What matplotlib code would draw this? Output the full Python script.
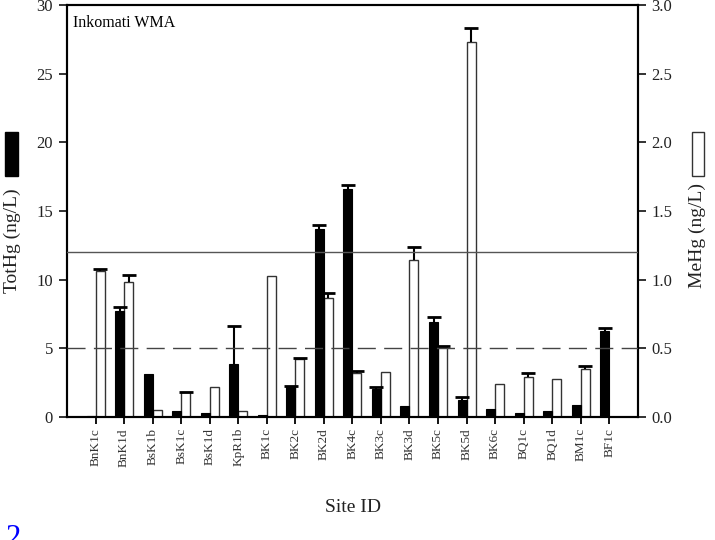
import matplotlib
matplotlib.use('Agg')
from matplotlib import pyplot as plt
from matplotlib.patches import Rectangle
import numpy as np

plt.rcParams['font.family'] = ['Liberation Serif', 'DejaVu Serif']

sitios = ['BnK1c', 'BnK1d', 'BsK1b', 'BsK1c', 'BsK1d', 'KpR1b', 'BK1c', 'BK2c', 'BK2d', 'BK4c',
          'BK3c', 'BK3d', 'BK5c', 'BK5d', 'BK6c', 'BQ1c', 'BQ1d', 'BM1c', 'BF1c']
tothg = [0.1, 7.7, 3.15, 0.4, 0.3, 3.85, 0.15, 2.15, 13.7, 16.6,
         2.05, 0.8, 6.95, 1.25, 0.55, 0.3, 0.4, 0.85, 6.25]
tothg_err = [0, 0.3, 0, 0, 0, 2.75, 0, 0.12, 0.3, 0.3,
             0.13, 0, 0.35, 0.2, 0, 0, 0, 0, 0.25]
mehg = [1.06, 0.98, 0.05, 0.18, 0.22, 0.045, 1.03, 0.42, 0.865, 0.32,
        0.33, 1.14, 0.51, 2.73, 0.24, 0.29, 0.275, 0.35, 0]
mehg_err = [0.02, 0.055, 0, 0.005, 0, 0, 0, 0.01, 0.04, 0.015,
            0, 0.1, 0.01, 0.1, 0, 0.03, 0, 0.02, 0]
limites = [12, 5]  # TotHg ng/L

x = np.arange(len(sitios))
w = 0.315

fig = plt.figure(figsize=(7.15, 5.4), dpi=100)
ax = fig.add_axes([0.0937, 0.2278, 0.7983, 0.7629])
ax2 = ax.twinx()
ax.set_zorder(ax2.get_zorder() + 1)
ax.patch.set_visible(False)

ax.bar(x - w, tothg, width=w, align='edge', color='black', edgecolor='black', linewidth=0.8)
ax2.bar(x, mehg, width=w, align='edge', color='white', edgecolor='#333333', linewidth=1.0)

# barras de error solo hacia arriba (una tapa)
def error_arriba(a, xs, ys, es):
    xs = np.asarray(xs); ys = np.asarray(ys); es = np.asarray(es)
    m = es > 0
    a.vlines(xs[m], ys[m], ys[m] + es[m], color='black', linewidth=1.5, zorder=4)
    a.plot(xs[m], ys[m] + es[m], linestyle='none', marker='_', markersize=9.5,
           markeredgewidth=2, color='black', zorder=4)

error_arriba(ax, x - w / 2, tothg, tothg_err)
error_arriba(ax2, x + w / 2, mehg, mehg_err)

ax.axhline(limites[0], color='#555555', linewidth=1.0, zorder=5)
ax.axhline(limites[1], color='#444444', linewidth=1.0, dashes=(13, 6), zorder=5)

ax.set_xlim(-1, len(sitios))
ax.set_ylim(0, 30)
ax2.set_ylim(0, 3)
ax.set_yticks([0, 5, 10, 15, 20, 25, 30])
ax2.set_yticks([0.0, 0.5, 1.0, 1.5, 2.0, 2.5, 3.0])
ax2.set_yticklabels(['0.0', '0.5', '1.0', '1.5', '2.0', '2.5', '3.0'])
ax.set_xticks(x)
ax.set_xticklabels(sitios, rotation=90, fontsize=9.5, color='#333333')

ax.tick_params(axis='y', direction='out', length=6, width=1.3, labelsize=12, colors='#222222', pad=4)
ax2.tick_params(axis='y', direction='out', length=6, width=1.3, labelsize=12, colors='#222222', pad=4)
ax.tick_params(axis='x', direction='out', length=5, width=1.3, pad=3)
for a in (ax, ax2):
    for s in a.spines.values():
        s.set_linewidth(1.5)

ax.text(0.01, 0.975, 'Inkomati WMA', transform=ax.transAxes, fontsize=11.5, va='top', ha='left')

# etiquetas con el simbolo de la serie
fig.patches.append(Rectangle((0.0074, 0.674), 0.0175, 0.0815, transform=fig.transFigure,
                             facecolor='black', edgecolor='black', figure=fig))
fig.patches.append(Rectangle((0.968, 0.674), 0.0168, 0.0815, transform=fig.transFigure,
                             facecolor='white', edgecolor='#333333', linewidth=1, figure=fig))
fig.text(0.0175, 0.554, 'TotHg (ng/L)', rotation=90, fontsize=14, ha='center', va='center', color='#222222')
fig.text(0.976, 0.564, 'MeHg (ng/L)', rotation=90, fontsize=14, ha='center', va='center', color='#222222')
fig.text(0.494, 0.06, 'Site ID', fontsize=14, ha='center', va='center', color='#222222')
fig.text(0.008, 0.03, '2', fontsize=22, color='blue', ha='left', va='top')

fig.savefig('out.png', dpi=100)
